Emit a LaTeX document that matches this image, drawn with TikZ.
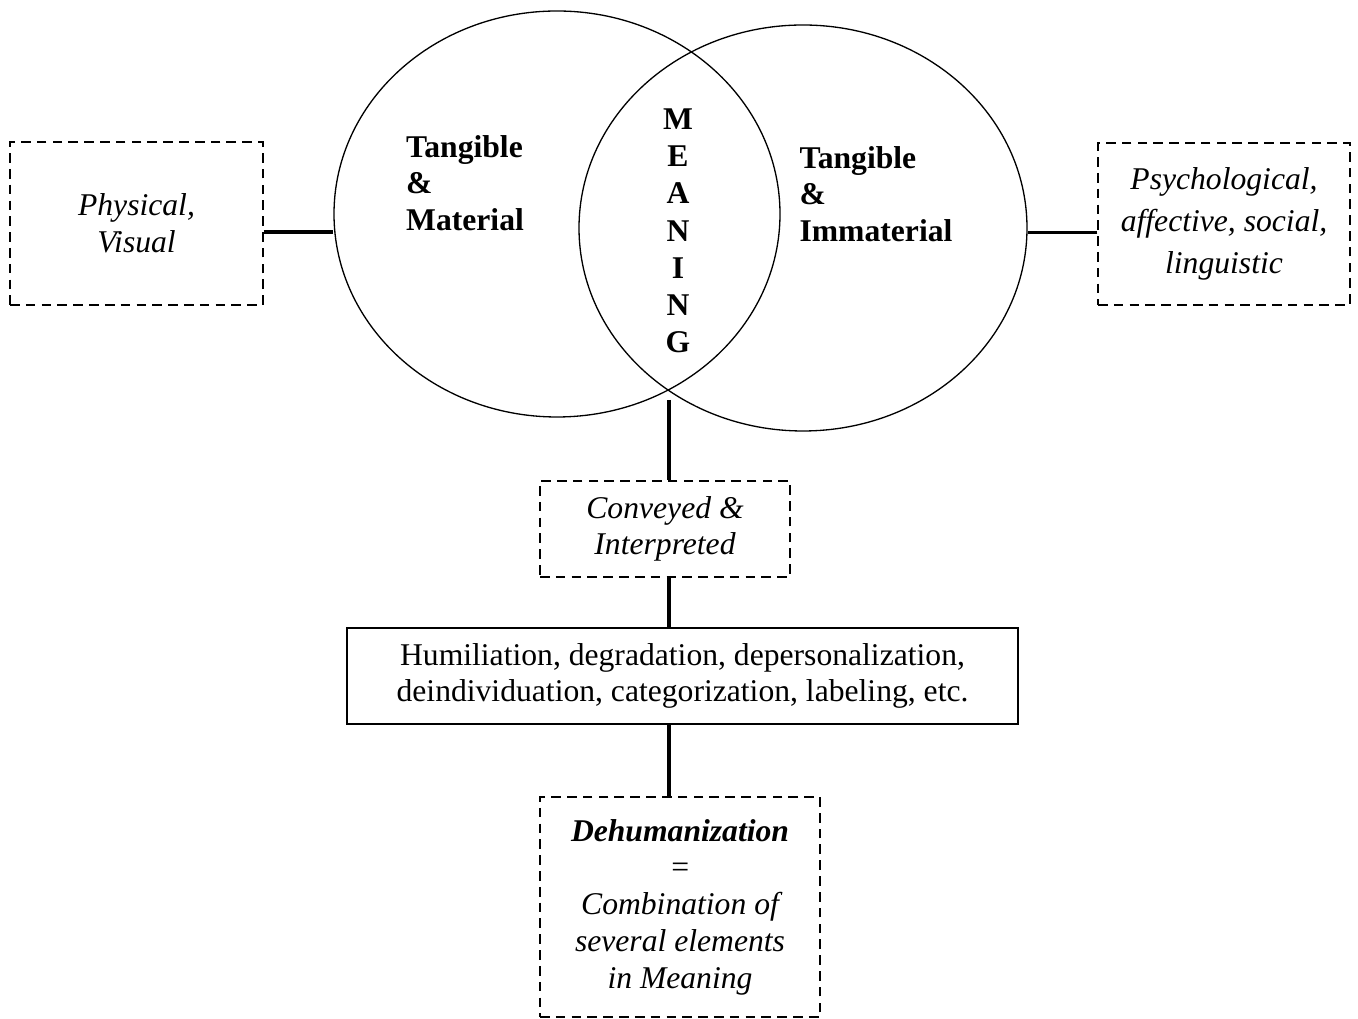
\documentclass[tikz,border=0pt]{standalone}
\usepackage{fontspec}
\setmainfont{Liberation Serif}
\usetikzlibrary{shapes.geometric}
\newcommand{\diagfont}{\fontsize{18}{20.9}\selectfont}
\begin{document}
\begin{tikzpicture}[
  dashbox/.style = {draw, dash pattern=on 5.5pt off 3.5pt, line width=0.85pt,
                    align=center, font=\diagfont\itshape, inner sep=0pt},
  ring/.style = {ellipse, draw, line width=0.75pt, inner sep=0pt},
  link/.style = {draw, line width=2pt}]
\useasboundingbox (0,0) rectangle (27.16,20.38);
% the two circles
\node[ring, minimum width=8.92cm, minimum height=8.12cm] (tm) at (11.14, 16.10) {};
\node[ring, minimum width=8.96cm, minimum height=8.12cm] (ti) at (16.06, 15.82) {};
\coordinate (meet) at (13.38, 12.38);
\begin{scope}[every node/.style = {align=left, font=\diagfont\bfseries}]
\node (tmtext) at (9.30, 16.72) {Tangible\\\&\\Material};
\node (titext) at (17.52, 16.50) {Tangible\\\&\\Immaterial};
\node[align=center, font=\fontsize{18}{21.2}\selectfont\bfseries] (meaning) at (13.56, 15.76) {M\\E\\A\\N\\I\\N\\G};
\end{scope}
% boxes
\node[dashbox, minimum width=5.06cm, minimum height=3.26cm] (phys) at (2.73, 15.91) {Physical,\\Visual};
\node[dashbox, font=\fontsize{18}{24}\selectfont\itshape, minimum width=5.04cm, minimum height=3.24cm] (psy) at (24.48, 15.90) {Psychological,\\affective, social,\\linguistic};
\node[dashbox, minimum width=5.0cm, minimum height=1.92cm] (conv) at (13.30, 9.80) {Conveyed \&\\Interpreted};
\node[draw, line width=0.85pt, align=center, font=\diagfont, minimum width=13.42cm, minimum height=1.92cm] (effects) at (13.65, 6.86)
  {Humiliation, degradation, depersonalization,\\deindividuation, categorization, labeling, etc.};
\node[dashbox, minimum width=5.6cm, minimum height=4.4cm] (dehum) at (13.60, 2.24)
  {\textbf{Dehumanization}\\=\\Combination of\\several elements\\in Meaning};
% connectors
\coordinate (lefthook) at ([yshift=-0.17cm]phys.east);
\coordinate (righthook) at ([yshift=-0.17cm]psy.west);
\path[link] (lefthook) -- (lefthook -| tm.west);
\path[link] (righthook) -- (righthook -| ti.east);
\path[link] (meet) -- (meet |- conv.north);
\path[link] (meet |- conv.south) -- (meet |- effects.north);
\path[link] (meet |- effects.south) -- (meet |- dehum.north);
\end{tikzpicture}
\end{document}
